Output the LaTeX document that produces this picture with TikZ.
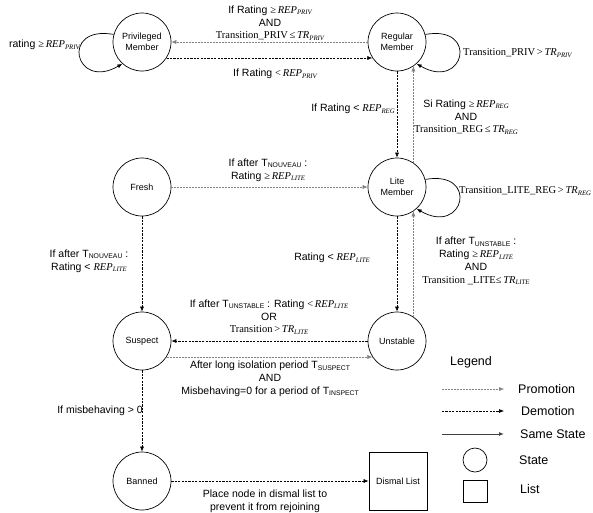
\documentclass[tikz,border=0pt]{standalone}
\usepackage{fontspec}
\setmainfont{Liberation Sans}
\newfontfamily\seriffam{Liberation Serif}
\usetikzlibrary{arrows.meta,calc}

\newcommand{\subcaps}[1]{\raisebox{-1.2pt}{\fontsize{6.8}{6.8}\selectfont #1}}
\newcommand{\Tp}[1]{T\subcaps{#1}}
\newcommand{\REPx}[1]{{\seriffam\itshape REP\raisebox{-1.5pt}{\fontsize{6.8}{6.8}\selectfont #1}}}
\newcommand{\TRx}[1]{{\seriffam\itshape TR\raisebox{-1.5pt}{\fontsize{6.8}{6.8}\selectfont #1}}}
\newcommand{\sy}[1]{{\seriffam #1}}

\tikzset{
  statenode/.style={circle, draw=black, line width=0.7pt, minimum size=58pt, inner sep=0pt,
    align=center, font=\fontsize{9}{11}\selectfont},
  listnode/.style={rectangle, draw=black, line width=0.7pt, minimum size=58pt, inner sep=0pt,
    align=center, font=\fontsize{9}{11}\selectfont},
  tipstyle/.style={-{Latex[length=5pt,width=4pt]}},
  promo/.style={tipstyle, draw=black!50, line width=0.5pt, dash pattern=on 2pt off 1pt},
  demo/.style={tipstyle, draw=black, line width=0.6pt, dash pattern=on 2.2pt off 1.2pt},
  samest/.style={tipstyle, draw=black, line width=0.7pt},
  lbl/.style={font=\fontsize{10.5}{12.8}\selectfont, inner sep=0pt, align=center},
  legtxt/.style={font=\fontsize{12.5}{14}\selectfont, inner sep=0pt, anchor=west},
}

\begin{document}
\begin{tikzpicture}[x=1pt,y=1pt]
\useasboundingbox (0,0) rectangle (593,-512);
\fill[white] (0,0) rectangle (593,-512);

% states
\node[statenode] (priv) at (142,-42) {Privileged\\Member};
\node[statenode] (reg) at (397,-42) {Regular\\Member};
\node[statenode] (fresh) at (142,-187) {Fresh};
\node[statenode] (lite) at (397,-187) {Lite\\Member};
\node[statenode] (susp) at (142,-341) {Suspect};
\node[statenode] (unst) at (397,-341) {Unstable};
\node[statenode] (ban) at (142,-481) {Banned};
\node[listnode] (dismal) at (398,-481) {Dismal List};

% connectors
\draw[promo] (reg.180) -- (priv.0);
\draw[demo] (priv.-33.5) -- (reg.213.5);
\draw[demo] (reg.270) -- (lite.90);
\draw[promo] (lite.56.5) -- (reg.-56.5);
\draw[promo] (fresh.0) -- (lite.180);
\draw[demo] (lite.270) -- (unst.90);
\draw[promo] (unst.56.5) -- (lite.-56.5);
\draw[demo] (unst.180) -- (susp.0);
\draw[promo] (susp.-33.5) -- (unst.213.5);
\draw[demo] (fresh.270) -- (susp.90);
\draw[demo] (susp.270) -- (ban.90);
\draw[demo] (ban.0) -- (dismal.180);

% self loops
\draw[samest] (priv.165) .. controls +(170:55) and +(210:55) .. (priv.228);
\draw[samest] (reg.15) .. controls +(10:55) and +(-30:55) .. (reg.-48);
\draw[samest] (lite.15) .. controls +(10:55) and +(-30:55) .. (lite.-48);

% labels
\node[lbl] (t1) at (270,-23) {If Rating \sy{≥}\,\REPx{PRIV}\\AND\\\sy{Transition\_PRIV\,≤\,}\TRx{PRIV}};
\node[lbl] (t2) at (275,-74) {If Rating \sy{<}\,\REPx{PRIV}};
\node[lbl, anchor=east] (t3) at (80,-45) {rating \sy{≥}\,\REPx{PRIV}};
\node[lbl, anchor=west] (t4) at (463,-53) {\sy{Transition\_PRIV\,>\,}\TRx{PRIV}};
\node[lbl, anchor=east] (t5) at (395,-109) {If Rating < \REPx{REG}};
\node[lbl] (t6) at (466,-117) {Si Rating \sy{≥}\,\REPx{REG}\\AND\\\sy{Transition\_REG\,≤\,}\TRx{REG}};
\node[lbl] (t7) at (268,-170) {If after \Tp{NOUVEAU} :\\Rating \sy{≥}\,\REPx{LITE}};
\node[lbl, anchor=west] (t8) at (459,-191) {\sy{Transition\_LITE\_REG\,>\,}\TRx{REG}};
\node[lbl, anchor=east] (t9) at (370,-258) {Rating < \REPx{LITE}};
\node[lbl] (t10) at (476,-261) {If after \Tp{UNSTABLE} :\\Rating \sy{≥}\,\REPx{LITE}\\AND\\\sy{Transition \_LITE≤\,}\TRx{LITE}};
\node[lbl] (t11) at (89,-261) {If after \Tp{NOUVEAU} :\\Rating < \REPx{LITE}};
\node[lbl] (t12) at (269,-317) {If after \Tp{UNSTABLE} : Rating \sy{<}\,\REPx{LITE}\\OR\\\sy{Transition\,>\,}\TRx{LITE}};
\node[lbl] (t13) at (270,-379) {After long isolation period \Tp{SUSPECT}\\AND\\Misbehaving=0 for a period of \Tp{INSPECT}};
\node[lbl, anchor=east] (t14) at (143,-411) {If misbehaving > 0};
\node[lbl] (t15) at (265,-501) {Place node in dismal list to\\prevent it from rejoining};

% legend
\node[font=\fontsize{12.5}{14}\selectfont, inner sep=0pt] (leg) at (471,-362) {Legend};
\coordinate (pa) at (442,-389); \coordinate (pb) at (504,-389);
\coordinate (da) at (442,-411); \coordinate (db) at (504,-411);
\coordinate (sa) at (442,-434); \coordinate (sb) at (504,-434);
\draw[promo] (pa) -- (pb);
\draw[demo] (da) -- (db);
\draw[samest, line width=1pt, draw=black!75] (sa) -- (sb);
\node[legtxt] (lp) at (518,-389) {Promotion};
\node[legtxt] (ld) at (521,-411) {Demotion};
\node[legtxt] (ls) at (520,-434) {Same State};
\node[circle, draw=black, line width=0.7pt, minimum size=24pt, inner sep=0pt] (lstate) at (475,-460) {};
\node[legtxt] (lst) at (519,-460) {State};
\node[rectangle, draw=black, line width=0.7pt, minimum width=24pt, minimum height=22pt, inner sep=0pt] (llist) at (475,-491) {};
\node[legtxt] (lli) at (520,-489) {List};
\end{tikzpicture}
\end{document}
